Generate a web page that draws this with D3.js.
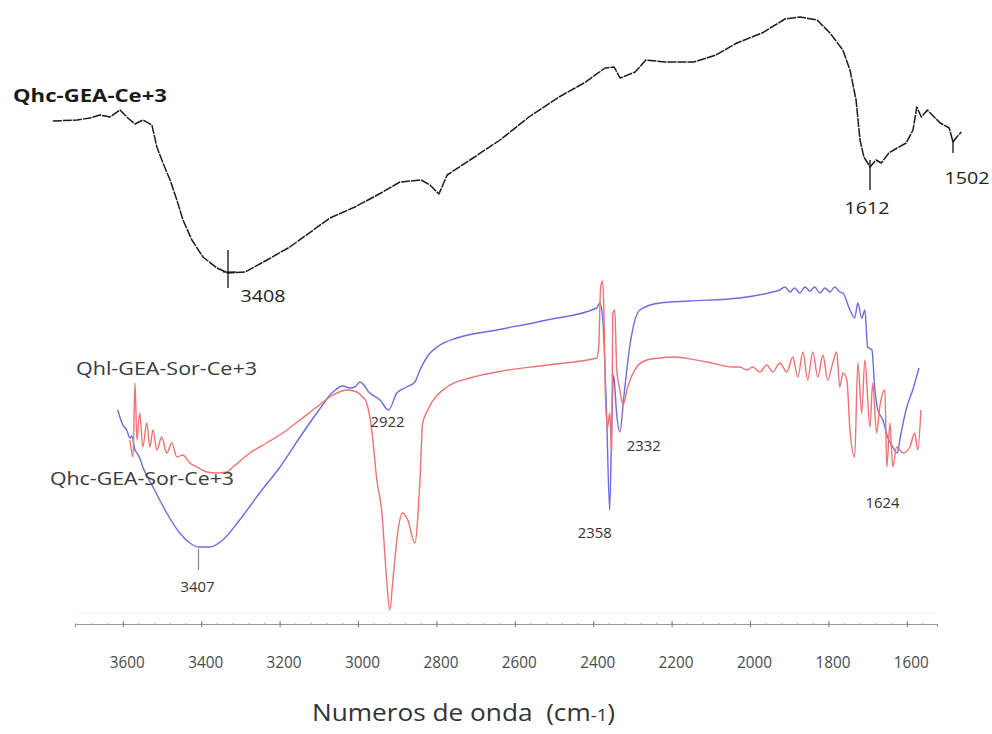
<!DOCTYPE html>
<html>
<head>
<meta charset="utf-8">
<script src="https://cdn.jsdelivr.net/npm/d3@7"></script>
<style>
  html, body { margin: 0; padding: 0; background: #fff; }
  svg { display: block; }
  text { font-family: "Open Sans", "Noto Sans", sans-serif; }
</style>
</head>
<body>
<svg id="chart" width="992" height="734"></svg>
<script>
// FTIR spectra: wavenumber (cm-1) and transmittance (%T)

// Qhc-GEA-Ce+3 (upper trace)
const topWavenumber = [3898,3830,3794,3766,3738,3710,3688,3668,3646,3621,3607,3590,3570,3551,3534,3509,3478,3439,3408,3360,3299,3235,3123,3053,2980,2927,2868,2843,2818,2795,2731,2647,2566,2482,2412,2353,2328,2311,2269,2239,2185,2104,2043,1984,1914,1850,1808,1760,1724,1688,1668,1651,1640,1629,1612,1604,1597,1587,1576,1564,1555,1550,1544,1536,1519,1507,1502,1497,1491];
const topTransmittance = [35.8,36.0,36.4,37.0,36.6,38.0,36.4,35.2,36.0,35.0,30.6,27.4,24.0,20.0,16.0,12.0,8.6,6.4,5.4,5.6,8.0,10.6,16.4,18.6,21.4,23.6,24.0,23.0,21.2,25.0,28.0,32.0,36.6,40.6,43.4,46.4,46.6,44.4,45.6,48.0,47.6,47.6,49.0,51.4,53.4,56.2,56.6,56.0,53.4,50.0,46.0,40.0,32.0,28.6,26.6,28.0,27.4,29.4,30.4,31.4,34.0,38.6,36.6,38.0,35.4,34.4,31.6,32.6,33.6];

// Qhc-GEA-Sor-Ce+3 (blue)
const blueWavenumber = [3613,3600,3590,3582,3577,3569,3564,3557,3549,3523,3488,3455,3429,3407,3378,3345,3302,3251,3199,3148,3105,3064,3039,3021,3008,2995,2970,2944,2922,2901,2876,2855,2842,2824,2791,2748,2646,2518,2391,2383,2376,2366,2358,2353,2348,2340,2332,2322,2307,2281,2230,2154,2026,1942,1924,1911,1898,1886,1873,1860,1847,1835,1822,1809,1796,1784,1771,1763,1745,1733,1725,1715,1707,1700,1689,1682,1674,1661,1649,1636,1624,1618,1600,1585,1569];
const blueTransmittance = [44.0,41.0,40.0,38.4,38.8,36.0,35.4,34.4,32.6,28.6,23.4,19.4,17.4,16.6,16.6,18.0,22.0,27.4,32.6,38.6,43.4,47.6,48.8,48.4,48.6,49.6,47.4,46.0,44.0,47.4,48.6,49.6,52.0,54.6,57.0,58.4,60.0,62.0,64.4,65.4,62.6,43.4,24.0,40.0,51.0,43.0,39.6,46.6,56.6,64.0,65.4,65.8,66.4,67.6,68.0,68.6,67.6,68.4,67.4,68.6,67.8,68.6,67.4,68.4,67.6,68.6,67.6,67.4,64.0,62.4,65.4,62.4,64.0,56.6,56.0,48.6,44.0,42.0,38.6,36.6,35.4,38.0,44.6,48.0,52.4];

// Qhl-GEA-Sor-Ce+3 (red)
const redWavenumber = [3582,3574,3569,3564,3557,3549,3539,3531,3523,3513,3501,3488,3475,3462,3447,3429,3411,3386,3360,3335,3319,3276,3233,3192,3148,3105,3064,3029,3003,2988,2978,2965,2952,2939,2927,2919,2911,2898,2886,2873,2855,2842,2835,2822,2773,2715,2646,2518,2391,2386,2381,2376,2373,2368,2363,2358,2353,2350,2345,2340,2332,2324,2312,2289,2263,2230,2197,2110,2044,2026,2008,1993,1975,1957,1942,1924,1906,1891,1878,1865,1853,1840,1827,1814,1802,1789,1779,1771,1763,1753,1745,1733,1725,1715,1707,1694,1687,1677,1669,1656,1651,1643,1636,1626,1610,1592,1580,1572,1564];
const redTransmittance = [38.0,34.6,49.4,38.0,43.4,36.6,41.4,36.6,40.0,36.0,38.6,35.4,37.4,34.6,35.0,33.4,32.6,31.6,31.4,31.6,32.6,35.4,37.4,39.4,42.0,44.6,47.0,48.0,47.6,46.6,45.4,40.0,30.0,23.4,10.0,4.0,10.0,20.0,23.4,22.0,17.4,30.0,41.4,44.0,48.6,50.4,51.6,53.0,54.4,56.6,68.6,69.8,64.6,44.6,40.6,43.4,36.0,63.4,64.0,52.0,48.0,45.0,48.6,52.6,54.0,54.4,54.6,53.6,52.6,52.6,52.0,52.6,51.6,53.0,51.6,53.4,51.6,54.6,50.6,55.6,50.0,55.6,50.6,55.0,50.0,53.4,55.6,48.6,51.4,50.0,40.0,34.6,53.4,43.4,54.0,40.6,49.4,39.4,44.6,48.0,32.6,41.4,32.6,36.6,35.4,36.6,39.4,36.0,44.0];

// Axis ticks
const tickValues = [3600,3400,3200,3000,2800,2600,2400,2200,2000,1800,1600];
const minorStep = 40;

// Annotated bands
const topPeaks = [3408, 1612, 1502];
const bottomPeaks = [3407, 2922, 2358, 2332, 1624];

// Series names
const topName = "Qhc-GEA-Ce+3";
const redName = "Qhl-GEA-Sor-Ce+3";
const blueName = "Qhc-GEA-Sor-Ce+3";
const axisTitle = "Numeros de onda\u00a0\u00a0(cm";
const axisTitleSup = "-1";

const svg = d3.select("#chart");

// Scales
const xTop = d3.scaleLinear().domain([3408, 1612, 1502]).range([228, 870, 953]);
const yTop = d3.scaleLinear().domain([0, 60]).range([300, 0]);
const xBot = d3.scaleLinear().domain([3722, 1523]).range([75, 937]);
const yBot = d3.scaleLinear().domain([0, 70]).range([630, 280]);

const zip = (a, b) => a.map((v, i) => [v, b[i]]);

// Upper spectrum
const topLine = d3.line().x(d => xTop(d[0])).y(d => yTop(d[1]));
svg.append("path")
  .datum(zip(topWavenumber, topTransmittance))
  .attr("d", topLine)
  .attr("fill", "none")
  .attr("stroke", "#1a1a1a")
  .attr("stroke-width", 1.5)
  .attr("stroke-dasharray", "9,1")
  .attr("stroke-linejoin", "round");

// Lower spectra
const botLine = d3.line().x(d => xBot(d[0])).y(d => yBot(d[1])).curve(d3.curveMonotoneX);
svg.append("path")
  .datum(zip(blueWavenumber, blueTransmittance))
  .attr("d", botLine)
  .attr("fill", "none")
  .attr("stroke", "#6c6ce0")
  .attr("stroke-width", 1.4);
svg.append("path")
  .datum(zip(redWavenumber, redTransmittance))
  .attr("d", botLine)
  .attr("fill", "none")
  .attr("stroke", "#f07272")
  .attr("stroke-width", 1.4);

// Upper band markers
const topT = wn => topTransmittance[topWavenumber.indexOf(wn)];
const topMarks = [
  { wn: topPeaks[0], up: 23, down: 15, dx: 35, ty: 302 },
  { wn: topPeaks[1], up: 7, down: 23, dx: -3, ty: 214 },
  { wn: topPeaks[2], up: 2, down: 11, dx: 14, ty: 184 }
];
topMarks.forEach(m => {
  const x = xTop(m.wn), y = yTop(topT(m.wn));
  svg.append("line").attr("x1", x).attr("x2", x).attr("y1", y - m.up).attr("y2", y + m.down)
    .attr("stroke", "#111").attr("stroke-width", 1.3);
  svg.append("text").attr("x", x + m.dx).attr("y", m.ty)
    .attr("text-anchor", "middle").attr("font-size", 17).attr("fill", "#222")
    .attr("textLength", 45).attr("lengthAdjust", "spacingAndGlyphs")
    .text(m.wn);
});
// cross bar at 3408
{
  const x = xTop(topPeaks[0]), y = yTop(topT(topPeaks[0]));
  svg.append("line").attr("x1", x - 5).attr("x2", x + 8).attr("y1", y - 1).attr("y2", y - 1)
    .attr("stroke", "#111").attr("stroke-width", 1.2);
}

// Lower band labels
const blueAt = wn => blueTransmittance[blueWavenumber.indexOf(wn)];
{
  const x = xBot(bottomPeaks[0]), y = yBot(blueAt(bottomPeaks[0]));
  svg.append("line").attr("x1", x).attr("x2", x).attr("y1", y + 2).attr("y2", y + 23)
    .attr("stroke", "#888").attr("stroke-width", 1.2);
}
const botLabels = [
  { wn: bottomPeaks[0], dx: -1, ty: 592, anchor: "middle" },
  { wn: bottomPeaks[1], dx: -1, ty: 427, anchor: "middle" },
  { wn: bottomPeaks[2], dx: -15, ty: 538, anchor: "middle" },
  { wn: bottomPeaks[3], dx: 7, ty: 451, anchor: "start" },
  { wn: bottomPeaks[4], dx: -15, ty: 508, anchor: "middle" }
];
botLabels.forEach(l => {
  svg.append("text").attr("x", xBot(l.wn) + l.dx).attr("y", l.ty)
    .attr("text-anchor", l.anchor).attr("font-size", 14).attr("fill", "#333")
    .attr("textLength", 34).attr("lengthAdjust", "spacingAndGlyphs")
    .text(l.wn);
});

// Series names
svg.append("text").attr("x", 13).attr("y", 102)
  .attr("font-size", 18).attr("font-weight", "bold").attr("fill", "#1a1a1a")
  .attr("textLength", 154).attr("lengthAdjust", "spacingAndGlyphs")
  .text(topName);
svg.append("text").attr("x", 76).attr("y", 375)
  .attr("font-size", 18).attr("fill", "#3a3a3a")
  .attr("textLength", 181).attr("lengthAdjust", "spacingAndGlyphs")
  .text(redName);
svg.append("text").attr("x", 50).attr("y", 485)
  .attr("font-size", 18).attr("fill", "#3a3a3a")
  .attr("textLength", 184).attr("lengthAdjust", "spacingAndGlyphs")
  .text(blueName);

// Bottom axis
const axisY = 624;
svg.append("line").attr("x1", 75).attr("x2", 937).attr("y1", axisY - 11).attr("y2", axisY - 11)
  .attr("stroke", "#f2f2f2").attr("stroke-width", 1);

const minorTicks = d3.range(3720, 1523, -minorStep);
const minorAxis = d3.axisBottom(xBot).tickValues(minorTicks).tickSize(2).tickFormat("");
svg.append("g").attr("transform", `translate(0,${axisY - 1})`).call(minorAxis)
  .call(g => g.select(".domain").remove())
  .call(g => g.selectAll("line").attr("stroke", "#aaa"));

const axis = d3.axisBottom(xBot).tickValues(tickValues).tickSize(3).tickPadding(30)
  .tickFormat(d3.format("d"));
const ax = svg.append("g").attr("transform", `translate(0,${axisY})`).call(axis);
ax.select(".domain").attr("stroke", "#999").attr("stroke-width", 1.2);
ax.selectAll(".tick line").attr("stroke", "#777").attr("y1", -3);
ax.selectAll(".tick text")
  .attr("dx", 4)
  .attr("font-size", 16)
  .attr("font-family", "'Open Sans', sans-serif")
  .attr("fill", "#4a4a4a")
  .attr("textLength", 35).attr("lengthAdjust", "spacingAndGlyphs");

// Axis title
const title = svg.append("text").attr("x", 312).attr("y", 721)
  .attr("font-size", 24).attr("fill", "#333")
  .attr("textLength", 303).attr("lengthAdjust", "spacingAndGlyphs");
title.append("tspan").text(axisTitle);
title.append("tspan").attr("font-size", 17).text(axisTitleSup);
title.append("tspan").text(")");
</script>
</body>
</html>
